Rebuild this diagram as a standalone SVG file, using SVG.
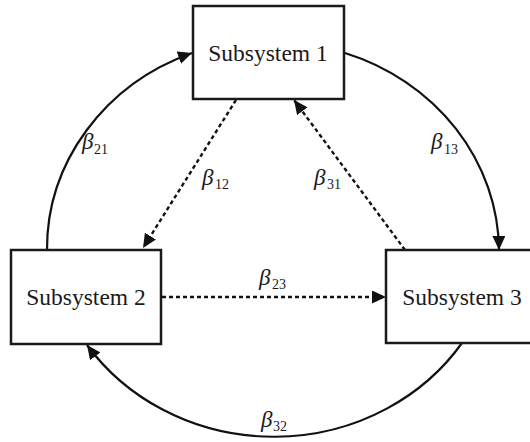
<svg xmlns="http://www.w3.org/2000/svg" width="530" height="442" viewBox="0 0 530 442">
<style>
.box{fill:#fff;stroke:#1a1a1a;stroke-width:2.5}
.lbl{font-family:"Liberation Serif","Times New Roman",serif;font-size:23.5px;fill:#1a1a1a;text-anchor:middle}
.solid{fill:none;stroke:#111;stroke-width:2.2}
.dash{fill:none;stroke:#111;stroke-width:2.4;stroke-dasharray:4 3}
.b{font-family:"Liberation Serif","Times New Roman",serif;font-style:italic;font-size:23px;fill:#1a1a1a}
.s{font-style:normal;font-size:14px}
</style>
<defs>
<marker id="ah" markerUnits="userSpaceOnUse" markerWidth="15" markerHeight="13" refX="14" refY="6.5" orient="auto">
<path d="M0,0 L14,6.5 L0,13 z" fill="#111"/>
</marker>
</defs>
<rect x="0" y="0" width="530" height="442" fill="#fff"/>
<g id="connectors">
<path class="solid" d="M47,250 A226,210 0 0 1 192,53" marker-end="url(#ah)"/>
<path class="solid" d="M345,53 A226,210 0 0 1 499,250" marker-end="url(#ah)"/>
<path class="solid" d="M462,343 A226,210 0 0 1 87,345" marker-end="url(#ah)"/>
<path class="dash" d="M236,100 L143,248" marker-end="url(#ah)"/>
<path class="dash" d="M405,250 L294,100" marker-end="url(#ah)"/>
<path class="dash" d="M162,297 L386,297" marker-end="url(#ah)"/>
<text class="b" x="82" y="149">β<tspan class="s" x="94" y="154">21</tspan></text>
<text class="b" x="431" y="149">β<tspan class="s" x="444" y="154">13</tspan></text>
<text class="b" x="202" y="185">β<tspan class="s" x="215" y="189">12</tspan></text>
<text class="b" x="314" y="185">β<tspan class="s" x="327" y="189">31</tspan></text>
<text class="b" x="259" y="285">β<tspan class="s" x="272" y="289">23</tspan></text>
<text class="b" x="261" y="427">β<tspan class="s" x="273" y="431">32</tspan></text>
</g>
<g id="subsystem1">
<rect class="box" x="193" y="6" width="151" height="93"/>
<text class="lbl" x="268" y="61">Subsystem 1</text>
</g>
<g id="subsystem2">
<rect class="box" x="11" y="250" width="150" height="94"/>
<text class="lbl" x="86" y="305">Subsystem 2</text>
</g>
<g id="subsystem3">
<rect class="box" x="386" y="250" width="152" height="93"/>
<text class="lbl" x="462" y="305">Subsystem 3</text>
</g>
</svg>
